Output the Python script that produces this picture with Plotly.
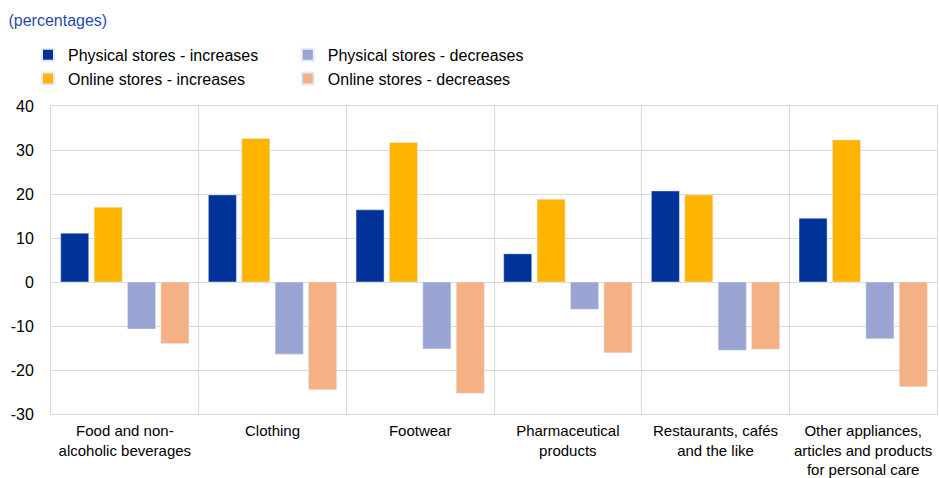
import plotly.graph_objects as go

categories = [
    "Food and non-<br>alcoholic beverages",
    "Clothing",
    "Footwear",
    "Pharmaceutical<br>products",
    "Restaurants, cafés<br>and the like",
    "Other appliances,<br>articles and products<br>for personal care",
]
physical_inc = [11.1, 19.8, 16.4, 6.4, 20.7, 14.5]
online_inc = [17.0, 32.6, 31.7, 18.8, 19.8, 32.3]
physical_dec = [-10.7, -16.4, -15.2, -6.2, -15.5, -12.9]
online_dec = [-14.0, -24.5, -25.3, -16.1, -15.3, -23.8]
y_ticks = [-30, -20, -10, 0, 10, 20, 30, 40]

FONT = "Liberation Sans, Arial, sans-serif"

fig = go.Figure()
fig.add_trace(go.Bar(x=categories, y=physical_inc, name="Physical stores - increases",
                     marker_color="#003299", legend="legend"))
fig.add_trace(go.Bar(x=categories, y=online_inc, name="Online stores - increases",
                     marker_color="#FFB400", legend="legend"))
fig.add_trace(go.Bar(x=categories, y=physical_dec, name="Physical stores - decreases",
                     marker_color="#99A4D2", legend="legend2"))
fig.add_trace(go.Bar(x=categories, y=online_dec, name="Online stores - decreases",
                     marker_color="#F4B183", legend="legend2"))

legend_style = dict(orientation="v", xref="container", yref="container", xanchor="left", yanchor="top",
                    font=dict(family=FONT, size=16, color="#000000"), bgcolor="rgba(0,0,0,0)",
                    itemwidth=30, tracegroupgap=0, itemsizing="constant")

fig.update_layout(
    width=939, height=478,
    margin=dict(l=51, r=2, t=106, b=64, autoexpand=False),
    paper_bgcolor="white", plot_bgcolor="white",
    barmode="group", bargap=0.095, bargroupgap=0.16,
    font=dict(family=FONT, size=16, color="#000000"),
    title=dict(text="(percentages)", x=0.009, xref="container", xanchor="left",
               y=0.958, yref="container", yanchor="middle",
               font=dict(family=FONT, size=16, color="#1F4BAF")),
    legend=dict(x=0.0298, y=0.921, **legend_style),
    legend2=dict(x=0.3065, y=0.921, **legend_style),
    xaxis=dict(tickson="boundaries", showgrid=True, gridcolor="#D9D9D9", ticks="",
               showline=True, mirror=True, linecolor="#D9D9D9", tickfont=dict(size=15),
               ticklabelstandoff=3, automargin=False),
    yaxis=dict(range=[-30, 40], tickvals=y_ticks, ticktext=[str(v) for v in y_ticks],
               showgrid=True, gridcolor="#D9D9D9",
               zeroline=True, zerolinecolor="#D9D9D9", zerolinewidth=1,
               showline=True, mirror=True, linecolor="#D9D9D9", ticks="",
               tickfont=dict(size=16), ticklabelstandoff=13, automargin=False),
)

fig.write_html("out.html", config={"displayModeBar": False},
               post_script="document.body.style.margin = '0';")
